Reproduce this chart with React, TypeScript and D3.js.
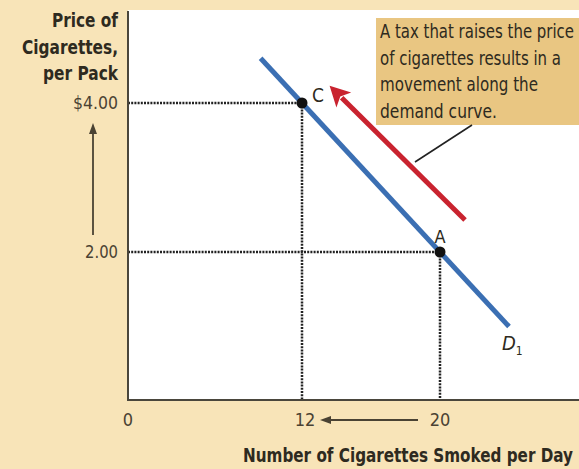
import React from "react";
import * as d3 from "d3";

// ---- data ----
const demandQ = [9.6, 24];
const demandP = [4.6, 1.0];
const pointLabels = ["C", "A"];
const pointQ = [12, 20];
const pointP = [4, 2];
const taxArrowQ = [21.45, 13.6];
const taxArrowP = [2.43, 4.23];
const xTickValues = [12, 20];
const xTickLabels = ["12", "20"];
const yTickValues = [4, 2];
const yTickLabels = ["$4.00", "2.00"];
const yTitleLines = ["Price of", "Cigarettes,", "per Pack"];
const xTitle = "Number of Cigarettes Smoked per Day";
const noteLines = [
  "A tax that raises the price",
  "of cigarettes results in a",
  "movement along the",
  "demand curve.",
];

const W = 579;
const H = 469;
const ORIGIN_X = 128;
const AXIS_Y = 400;
const TOP = 11;

const BG = "#f8e4b8";
const NOTE_BG = "#e9c682";
const BLUE = "#3b6fb3";
const RED = "#c9232f";
const AXIS = "#4a463c";
const TEXT = "#2e2a20";
const TICK = "#4a4233";
const FONT = "'DejaVu Sans', sans-serif";

const noteWidths = [194, 181, 158, 117];
const yTitleWidths = [66, 96, 75];
const yTickWidths = [45, 33];

export default function App() {
  const x = d3.scaleLinear().domain([12, 20]).range([302, 440]);
  const y = d3.scaleLinear().domain([0, 4]).range([401, 103]);

  const demandLine = d3
    .line<number>()
    .x((_, i) => x(demandQ[i]))
    .y((_, i) => y(demandP[i]));

  // red arrow
  const x0 = x(taxArrowQ[0]);
  const y0 = y(taxArrowP[0]);
  const x1 = x(taxArrowQ[1]);
  const y1 = y(taxArrowP[1]);
  const len = Math.hypot(x1 - x0, y1 - y0);
  const ux = (x1 - x0) / len;
  const uy = (y1 - y0) / len;
  const headL = 20;
  const headW = 10.5;
  const bx = x1 - ux * headL;
  const by = y1 - uy * headL;
  const head = [
    [x1, y1],
    [bx - uy * headW, by + ux * headW],
    [bx + ux * 5, by + uy * 5],
    [bx + uy * headW, by - ux * headW],
  ];

  return (
    <svg
      width={W}
      height={H}
      style={{ position: "absolute", left: 0, top: 0, display: "block", fontStretch: "condensed" }}
      fontFamily={FONT}
    >
      <rect x={0} y={0} width={W} height={H} fill={BG} />
      <rect x={ORIGIN_X} y={TOP - 1} width={W - ORIGIN_X} height={AXIS_Y - TOP + 1} fill="#ffffff" />

      {/* dotted guide lines */}
      {pointQ.map((q, i) => (
        <g key={"g" + i} stroke="#222" strokeWidth={2.5} strokeDasharray="2,1.2" fill="none">
          <line x1={ORIGIN_X} y1={y(pointP[i])} x2={x(q)} y2={y(pointP[i])} />
          <line x1={x(q)} y1={y(pointP[i])} x2={x(q)} y2={AXIS_Y} />
        </g>
      ))}

      {/* annotation box */}
      <rect x={376} y={18} width={W - 376} height={107} fill={NOTE_BG} />
      {noteLines.map((t, i) => (
        <text
          key={t}
          x={380}
          y={38 + i * 26.7}
          fontSize={19}
          fill={TEXT}
          textLength={noteWidths[i]}
          lengthAdjust="spacingAndGlyphs"
        >
          {t}
        </text>
      ))}
      <line x1={472} y1={125} x2={415} y2={162} stroke="#222" strokeWidth={1.6} />

      {/* demand curve */}
      <path d={demandLine(demandQ) || ""} stroke={BLUE} strokeWidth={5} fill="none" />

      {/* red arrow */}
      <line x1={x0} y1={y0} x2={bx + ux * 3} y2={by + uy * 3} stroke={RED} strokeWidth={5} />
      <polygon points={head.map((p) => p.join(",")).join(" ")} fill={RED} />

      {/* points */}
      {pointQ.map((q, i) => (
        <circle key={"p" + i} cx={x(q)} cy={y(pointP[i])} r={5.5} fill="#111" />
      ))}
      <text x={x(pointQ[0]) + 10} y={y(pointP[0]) - 1} fontSize={19} fill={TEXT}>
        {pointLabels[0]}
      </text>
      <text x={x(pointQ[1])} y={y(pointP[1]) - 9} fontSize={18} fill={TEXT} textAnchor="middle">
        {pointLabels[1]}
      </text>

      {/* D1 label */}
      <text x={502} y={350} fontSize={20} fontStyle="italic" fill={TEXT}>
        D<tspan fontSize={12} dy={5} fontStyle="normal">1</tspan>
      </text>

      {/* axes */}
      <line x1={ORIGIN_X} y1={TOP} x2={ORIGIN_X} y2={AXIS_Y + 1} stroke={AXIS} strokeWidth={2} />
      <line x1={ORIGIN_X - 1} y1={AXIS_Y} x2={W} y2={AXIS_Y} stroke={AXIS} strokeWidth={2} />

      {/* y title */}
      {yTitleLines.map((t, i) => (
        <text
          key={t}
          x={118}
          y={27 + i * 26.5}
          fontSize={19}
          fontWeight="bold"
          fill={TEXT}
          textAnchor="end"
          textLength={yTitleWidths[i]}
          lengthAdjust="spacingAndGlyphs"
        >
          {t}
        </text>
      ))}
      {yTickValues.map((v, i) => (
        <text
          key={"yt" + i}
          x={118}
          y={y(v)}
          dy="0.35em"
          fontSize={18}
          fill={TICK}
          textAnchor="end"
          textLength={yTickWidths[i]}
          lengthAdjust="spacingAndGlyphs"
        >
          {yTickLabels[i]}
        </text>
      ))}
      {/* up arrow */}
      <line x1={93} y1={235} x2={93} y2={132} stroke={TICK} strokeWidth={1.8} />
      <polygon points="93,123 89,134 97,134" fill={TICK} />

      {/* x ticks */}
      <text x={ORIGIN_X} y={420} dy="0.35em" fontSize={18} fill={TICK} textAnchor="middle">
        0
      </text>
      {xTickValues.map((v, i) => (
        <text
          key={"xt" + i}
          x={x(v) + (i === 0 ? 3 : 0)}
          y={420}
          dy="0.35em"
          fontSize={18}
          fill={TICK}
          textAnchor="middle"
        >
          {xTickLabels[i]}
        </text>
      ))}
      <line x1={418} y1={420} x2={328} y2={420} stroke={TICK} strokeWidth={1.8} />
      <polygon points="320,420 331,416 331,424" fill={TICK} />

      {/* x title */}
      <text
        x={243}
        y={462}
        fontSize={19}
        fontWeight="bold"
        fill={TEXT}
        textLength={330}
        lengthAdjust="spacingAndGlyphs"
      >
        {xTitle}
      </text>
    </svg>
  );
}
